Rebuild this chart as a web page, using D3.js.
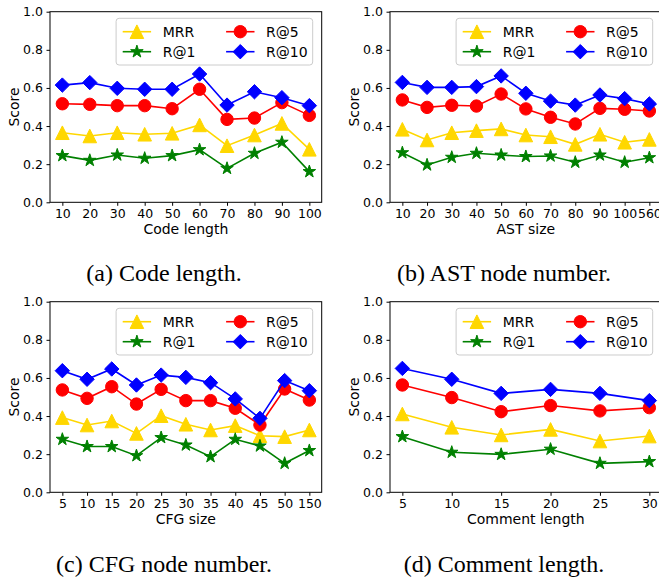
<!DOCTYPE html>
<html>
<head>
<meta charset="utf-8">
<script src="https://cdn.jsdelivr.net/npm/d3@7"></script>
<style>
  html, body { margin: 0; padding: 0; background: #fff; }
  svg { display: block; }
</style>
</head>
<body>
<svg id="chart" width="659" height="583"></svg>
<script>
// ---------- data ----------
const seriesNames = ["MRR", "R@1", "R@5", "R@10"];
const seriesColors = ["#FFD700", "#008000", "#FF0000", "#0000FF"];
const yTicks = [0.0, 0.2, 0.4, 0.6, 0.8, 1.0];

// (a) Code length
const codeLenCats = ["10", "20", "30", "40", "50", "60", "70", "80", "90", "100"];
const codeLenMRR  = [0.365, 0.348, 0.365, 0.357, 0.362, 0.406, 0.297, 0.353, 0.414, 0.278];
const codeLenR1   = [0.245, 0.220, 0.248, 0.231, 0.245, 0.276, 0.178, 0.257, 0.315, 0.161];
const codeLenR5   = [0.517, 0.514, 0.507, 0.507, 0.491, 0.593, 0.435, 0.442, 0.523, 0.456];
const codeLenR10  = [0.615, 0.628, 0.598, 0.593, 0.593, 0.673, 0.510, 0.580, 0.549, 0.507];

// (b) AST size
const astCats = ["10", "20", "30", "40", "50", "60", "70", "80", "90", "100", "560"];
const astMRR  = [0.383, 0.327, 0.365, 0.376, 0.385, 0.353, 0.344, 0.304, 0.357, 0.315, 0.330];
const astR1   = [0.260, 0.196, 0.236, 0.257, 0.248, 0.240, 0.243, 0.210, 0.248, 0.210, 0.234];
const astR5   = [0.537, 0.498, 0.509, 0.505, 0.568, 0.490, 0.446, 0.411, 0.493, 0.488, 0.479];
const astR10  = [0.629, 0.603, 0.603, 0.607, 0.663, 0.572, 0.531, 0.510, 0.563, 0.544, 0.516];

// (c) CFG size
const cfgCats = ["5", "10", "15", "20", "25", "30", "35", "40", "45", "50", "150"];
const cfgMRR  = [0.392, 0.353, 0.374, 0.309, 0.402, 0.357, 0.327, 0.350, 0.297, 0.292, 0.327];
const cfgR1   = [0.278, 0.240, 0.240, 0.192, 0.287, 0.248, 0.187, 0.278, 0.243, 0.152, 0.219];
const cfgR5   = [0.537, 0.493, 0.554, 0.463, 0.540, 0.481, 0.481, 0.441, 0.353, 0.542, 0.484];
const cfgR10  = [0.638, 0.593, 0.647, 0.563, 0.615, 0.603, 0.575, 0.490, 0.388, 0.586, 0.533];

// (d) Comment length
const cmtCats = ["5", "10", "15", "20", "25", "30"];
const cmtMRR  = [0.411, 0.341, 0.301, 0.330, 0.269, 0.295];
const cmtR1   = [0.292, 0.210, 0.199, 0.226, 0.152, 0.161];
const cmtR5   = [0.563, 0.497, 0.423, 0.455, 0.427, 0.444];
const cmtR10  = [0.650, 0.593, 0.519, 0.540, 0.519, 0.481];

const panels = [
  { cats: codeLenCats, series: [codeLenMRR, codeLenR1, codeLenR5, codeLenR10], xlabel: "Code length", caption: "(a) Code length." },
  { cats: astCats, series: [astMRR, astR1, astR5, astR10], xlabel: "AST size", caption: "(b) AST node number." },
  { cats: cfgCats, series: [cfgMRR, cfgR1, cfgR5, cfgR10], xlabel: "CFG size", caption: "(c) CFG node number." },
  { cats: cmtCats, series: [cmtMRR, cmtR1, cmtR5, cmtR10], xlabel: "Comment length", caption: "(d) Comment length." }
];

// ---------- layout ----------
const AX_W = 271.7, AX_H = 190.6;
const lefts = [50, 390, 50, 390];
const tops = [11.7, 11.7, 301.7, 301.7];
const capX = [164, 504, 164, 504];
const capY = [281, 281, 572, 572];
const SANS = "'DejaVu Sans', sans-serif";
const SERIF = "'Liberation Serif', 'Times New Roman', serif";

// marker path generators (centered at 0,0)
function markerPath(kind) {
  if (kind === 0) { // triangle up (matplotlib style, centered at mid-height)
    const h = 6.8;
    return `M0,${-h}L${-h},${h}L${h},${h}Z`;
  }
  if (kind === 1) { // star
    const R = 6.6, r = R * 0.381966;
    let p = "";
    for (let i = 0; i < 10; i++) {
      const rad = i % 2 === 0 ? R : r;
      const a = -Math.PI / 2 + i * Math.PI / 5;
      p += (i === 0 ? "M" : "L") + (rad * Math.cos(a)).toFixed(3) + "," + (rad * Math.sin(a)).toFixed(3);
    }
    return p + "Z";
  }
  if (kind === 2) { // circle
    const r = 6.2;
    return `M${r},0A${r},${r} 0 1,1 ${-r},0A${r},${r} 0 1,1 ${r},0Z`;
  }
  // diamond
  const d = 7.2;
  return `M0,${-d}L${d},0L0,${d}L${-d},0Z`;
}

const svg = d3.select("#chart");

panels.forEach((pnl, pi) => {
  const L = lefts[pi], T = tops[pi];
  const n = pnl.cats.length;
  const m = 0.05 * (n - 1);
  const x = d3.scaleLinear().domain([-m, n - 1 + m]).range([L, L + AX_W]);
  const y = d3.scaleLinear().domain([0, 1]).range([T + AX_H, T]);

  const g = svg.append("g");

  // axes
  const xAxis = d3.axisBottom(x)
    .tickValues(d3.range(n))
    .tickFormat(i => pnl.cats[i])
    .tickSizeInner(3.5).tickSizeOuter(0).tickPadding(3.5);
  const yAxis = d3.axisLeft(y)
    .tickValues(yTicks)
    .tickFormat(d3.format(".1f"))
    .tickSizeInner(3.5).tickSizeOuter(0).tickPadding(3.5);

  const gx = g.append("g").attr("transform", `translate(0,${T + AX_H})`).call(xAxis);
  const gy = g.append("g").attr("transform", `translate(${L},0)`).call(yAxis);
  [gx, gy].forEach(ax => {
    ax.select(".domain").remove();
    ax.selectAll(".tick line").attr("stroke", "#000").attr("stroke-width", 1);
    ax.selectAll(".tick text").attr("font-family", SANS).attr("font-size", 12.5).attr("fill", "#000");
  });

  // data lines and markers (in plotting order: MRR, R@1, R@5, R@10)
  const clipId = "clip" + pi;
  g.append("clipPath").attr("id", clipId).append("rect")
    .attr("x", L - 10).attr("y", T - 10).attr("width", AX_W + 20).attr("height", AX_H + 20);
  const dataG = g.append("g");
  pnl.series.forEach((vals, si) => {
    const line = d3.line().x((d, i) => x(i)).y(d => y(d));
    dataG.append("path")
      .attr("d", line(vals))
      .attr("fill", "none")
      .attr("stroke", seriesColors[si])
      .attr("stroke-width", 1.6);
    dataG.selectAll(null).data(vals).enter().append("path")
      .attr("d", markerPath(si))
      .attr("transform", (d, i) => `translate(${x(i)},${y(d)})`)
      .attr("fill", seriesColors[si])
      .attr("stroke", seriesColors[si])
      .attr("stroke-width", 1);
  });

  // frame
  g.append("rect")
    .attr("x", L).attr("y", T).attr("width", AX_W).attr("height", AX_H)
    .attr("fill", "none").attr("stroke", "#000").attr("stroke-width", 1);

  // axis labels
  g.append("text")
    .attr("x", L + AX_W / 2).attr("y", T + AX_H + 31.5)
    .attr("text-anchor", "middle")
    .attr("font-family", SANS).attr("font-size", 14)
    .text(pnl.xlabel);
  g.append("text")
    .attr("transform", `translate(${L - 31.5},${T + AX_H / 2}) rotate(-90)`)
    .attr("text-anchor", "middle")
    .attr("font-family", SANS).attr("font-size", 14)
    .text("Score");

  // legend
  const LW = 196.6, LH = 46.7;
  const lg = g.append("g").attr("transform", `translate(${L + AX_W - 9 - LW},${T + 6.6})`);
  lg.append("rect")
    .attr("width", LW).attr("height", LH).attr("rx", 3).attr("ry", 3)
    .attr("fill", "#fff").attr("fill-opacity", 0.8)
    .attr("stroke", "#cccccc").attr("stroke-width", 1);
  const legPos = [[0, 0], [0, 1], [1, 0], [1, 1]]; // [col,row]
  const colX = [6.6, 110];
  const rowY = [13.4, 33.4];
  seriesNames.forEach((name, si) => {
    const [c, r] = legPos[si];
    const x0 = colX[c], yy = rowY[r];
    lg.append("line")
      .attr("x1", x0).attr("x2", x0 + 28.4).attr("y1", yy).attr("y2", yy)
      .attr("stroke", seriesColors[si]).attr("stroke-width", 1.6);
    lg.append("path")
      .attr("d", markerPath(si))
      .attr("transform", `translate(${x0 + 14.2},${yy})`)
      .attr("fill", seriesColors[si]).attr("stroke", seriesColors[si]).attr("stroke-width", 1);
    lg.append("text")
      .attr("x", x0 + 40).attr("y", yy + 5)
      .attr("font-family", SANS).attr("font-size", 14)
      .text(name);
  });

  // caption
  svg.append("text")
    .attr("x", capX[pi]).attr("y", capY[pi])
    .attr("text-anchor", "middle")
    .attr("font-family", SERIF).attr("font-size", 24)
    .text(pnl.caption);
});
</script>
</body>
</html>
